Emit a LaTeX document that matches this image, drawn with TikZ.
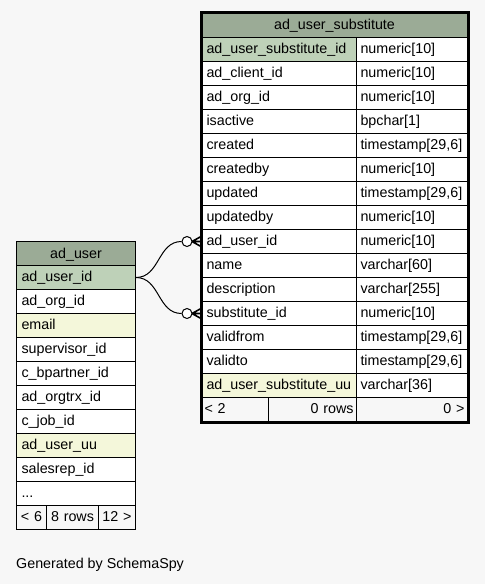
\documentclass[tikz,border=0pt]{standalone}
\usepackage{fontspec}
\setmainfont{Liberation Sans}
\usetikzlibrary{calc,positioning}
\definecolor{hdr}{HTML}{9BAB96}
\definecolor{pkey}{HTML}{BED1B8}
\definecolor{idx}{HTML}{F4F7DA}
\definecolor{page}{HTML}{F7F7F7}
\newcommand{\colmore}{...}

\begin{document}
\begin{tikzpicture}[x=1pt, y=-1pt, font=\fontsize{14.3}{16}\selectfont,
  cell/.style={draw, line width=1pt, anchor=north west, minimum height=24, inner ysep=0, text height=10.5, text depth=2.5, fill=white},
  colname/.style={cell, inner xsep=5, align=left},
  coltype/.style={cell, text width=103, inner xsep=4, align=left},
  head/.style={cell, fill=hdr, minimum height=25, inner xsep=5, align=center},
  foot/.style={cell, fill=page, inner xsep=3},
  link/.style={line width=1pt},
  ring/.style={circle, draw, line width=1pt, fill=white, minimum size=10, inner sep=0}]
  \fill[page] (0,0) rectangle (485,584);
  \useasboundingbox (0,0) rectangle (485,584);

  % ad_user_substitute
  \node[head, text width=256] (sh) at (201,12) {ad\_user\_substitute};
  \foreach \n/\t/\f [count=\i] in {ad\_user\_substitute\_id/numeric[10]/pkey, ad\_client\_id/numeric[10]/white,
      ad\_org\_id/numeric[10]/white, isactive/bpchar[1]/white, created/{timestamp[29,6]}/white,
      createdby/numeric[10]/white, updated/{timestamp[29,6]}/white, updatedby/numeric[10]/white,
      ad\_user\_id/numeric[10]/white, name/varchar[60]/white, description/varchar[255]/white,
      substitute\_id/numeric[10]/white, validfrom/{timestamp[29,6]}/white, validto/{timestamp[29,6]}/white,
      ad\_user\_substitute\_uu/varchar[36]/idx}{
    \node[colname, text width=145, fill=\f] (s\i) at (201,13+24*\i) {\n};
    \node[coltype] (t\i) at (356,13+24*\i) {\t};
  }
  \node[foot, text width=61, align=left] (sf1) at (201,397) {< 2};
  \node[foot, text width=82, align=right] (sf2) at (268,397) {0 rows};
  \node[foot, text width=105, align=right] (sf3) at (356,397) {0 >};
  \draw[line width=3pt] (sh.north west) rectangle (sf3.south east);

  % ad_user
  \node[head, text width=109] (uh) at (16,241) {ad\_user};
  \foreach \n/\f [count=\i] in {ad\_user\_id/pkey, ad\_org\_id/white, email/idx, supervisor\_id/white,
      c\_bpartner\_id/white, ad\_orgtrx\_id/white, c\_job\_id/white, ad\_user\_uu/idx, salesrep\_id/white, \colmore/white}{
    \node[colname, text width=109, fill=\f] (u\i) at (16,241+24*\i) {\n};
  }
  \node[foot, text width=24, align=center] (uf1) at (16,505) {< 6};
  \node[foot, text width=46, align=center] (uf2) at (46,505) {8 rows};
  \node[foot, text width=31, align=center] (uf3) at (98,505) {12 >};

  % relations
  \foreach \r/\k in {s9/1, s12/2}{
    \node[ring] (o\k) at ($(\r.west)+(-14,0)$) {};
    \coordinate (k\k) at ($(\r.west)+(-9,0)$);
    \draw[link] (u1.east) .. controls +(24,0) and +(-24,0) .. (o\k.west);
    \draw[line width=1.6pt] (o\k.east) -- (\r.west)
      (k\k) -- ($(\r.west)+(0,-5)$) (k\k) -- ($(\r.west)+(0,5)$);
  }

  \node[anchor=base west, inner sep=0] (gen) at (16,568) {Generated by SchemaSpy};
\end{tikzpicture}
\end{document}
